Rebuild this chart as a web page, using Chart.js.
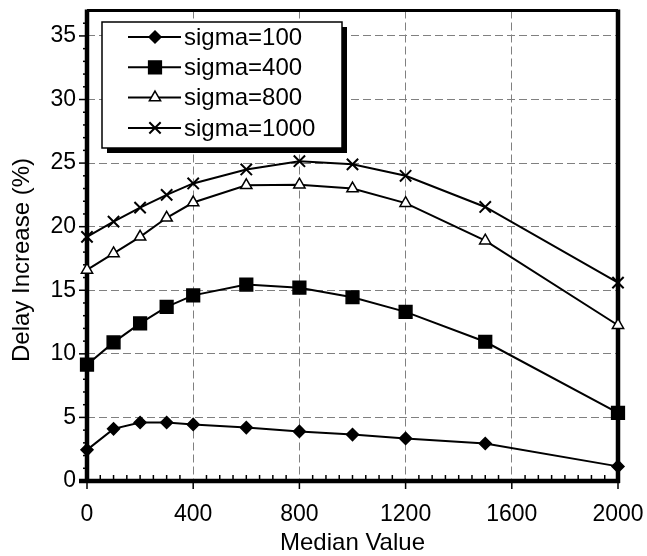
<!DOCTYPE html>
<html>
<head>
<meta charset="utf-8">
<script src="https://cdn.jsdelivr.net/npm/chart.js@4"></script>
<style>body{margin:0;background:#fff}</style>
</head>
<body>
<canvas id="chart" width="647" height="556"></canvas>
<script>
// data
const medianValues = [0, 100, 200, 300, 400, 600, 800, 1000, 1200, 1500, 2000];
const sigma100  = [2.45, 4.1, 4.6, 4.6, 4.45, 4.2, 3.9, 3.65, 3.35, 2.95, 1.15];
const sigma400  = [9.15, 10.9, 12.4, 13.7, 14.6, 15.45, 15.2, 14.45, 13.3, 10.95, 5.35];
const sigma800  = [16.6, 17.9, 19.2, 20.7, 21.9, 23.25, 23.3, 23.0, 21.85, 18.9, 12.25];
const sigma1000 = [19.2, 20.4, 21.5, 22.5, 23.4, 24.5, 25.15, 24.9, 24.0, 21.55, 15.6];
const seriesLabels = ['sigma=100', 'sigma=400', 'sigma=800', 'sigma=1000'];
const xTicks = [0, 400, 800, 1200, 1600, 2000];
const yTicks = [0, 5, 10, 15, 20, 25, 30, 35];
const xTitle = 'Median Value';
const yTitle = 'Delay Increase (%)';

const FONT = 'Liberation Sans, Arial, sans-serif';
Chart.defaults.font.family = FONT;
Chart.defaults.font.size = 23;
Chart.defaults.color = '#000';

function toPoints(values) {
    return medianValues.map((x, i) => ({x: x, y: values[i]}));
}

function makeSet(label, values, style, radius, fill) {
    return {
        label: label,
        data: toPoints(values),
        borderColor: '#000',
        borderWidth: 2,
        pointStyle: style,
        pointRadius: radius,
        pointBackgroundColor: fill,
        pointBorderColor: '#000',
        pointBorderWidth: style === 'crossRot' ? 2 : 1.5,
        clip: false,
        tension: 0
    };
}

const datasets = [
    makeSet(seriesLabels[0], sigma100, 'rectRot', 6, '#000'),
    makeSet(seriesLabels[1], sigma400, 'rect', 9, '#000'),
    makeSet(seriesLabels[2], sigma800, 'triangle', 6.5, '#fff'),
    makeSet(seriesLabels[3], sigma1000, 'crossRot', 8, '#000')
];

function line(ctx, x1, y1, x2, y2) {
    ctx.beginPath();
    ctx.moveTo(x1, y1);
    ctx.lineTo(x2, y2);
    ctx.stroke();
}

// thick frame, minor tick marks and axis titles
const framePlugin = {
    id: 'frame',
    beforeDatasetsDraw(chart) {
        const ctx = chart.ctx;
        const {left, right, top, bottom} = chart.chartArea;
        const x = chart.scales.x, y = chart.scales.y;
        ctx.save();
        ctx.strokeStyle = '#000';
        ctx.lineWidth = 1.5;
        for (let v = 1; v < 37; v++) {
            const py = y.getPixelForValue(v);
            line(ctx, left - (v % 5 === 0 ? 8 : 4), py, left, py);
        }
        for (let v = 0; v <= 2000; v += 50) {
            const px = x.getPixelForValue(v);
            if (v % 400 === 0) line(ctx, px, bottom, px, bottom + 8);
            else line(ctx, px, bottom - 6, px, bottom);
        }
        ctx.lineWidth = 3;
        line(ctx, left, top, right, top);
        ctx.lineWidth = 4.5;
        line(ctx, left, top - 1, left, bottom + 2);
        line(ctx, left - 8, bottom, right + 2, bottom);
        line(ctx, right, top - 1, right, bottom + 2);

        ctx.fillStyle = '#000';
        ctx.font = '24px ' + FONT;
        ctx.textAlign = 'center';
        ctx.textBaseline = 'middle';
        ctx.fillText(xTitle, (left + right) / 2, 543);
        ctx.translate(22, 260);
        ctx.rotate(-Math.PI / 2);
        ctx.fillText(yTitle, 0, 0);
        ctx.restore();
    }
};

// boxed legend with drop shadow
const legendPlugin = {
    id: 'boxLegend',
    afterDraw(chart) {
        const ctx = chart.ctx;
        const bx = 102, by = 22, bw = 240, bh = 126;
        ctx.save();
        ctx.fillStyle = '#000';
        ctx.fillRect(bx + 5, by + 5, bw, bh);
        ctx.fillStyle = '#fff';
        ctx.fillRect(bx, by, bw, bh);
        ctx.strokeStyle = '#000';
        ctx.lineWidth = 1.5;
        ctx.strokeRect(bx, by, bw, bh);
        ctx.font = '24px ' + FONT;
        ctx.textBaseline = 'middle';
        chart.data.datasets.forEach((ds, i) => {
            const ry = 37 + i * 30.3;
            ctx.strokeStyle = '#000';
            ctx.lineWidth = 2;
            line(ctx, 128, ry, 181, ry);
            ctx.fillStyle = ds.pointBackgroundColor;
            ctx.lineWidth = ds.pointBorderWidth;
            Chart.helpers.drawPoint(ctx, {pointStyle: ds.pointStyle, radius: ds.pointRadius, rotation: 0, borderWidth: ds.pointBorderWidth}, 155, ry);
            ctx.fillStyle = '#000';
            ctx.fillText(ds.label, 184, ry + 1);
        });
        ctx.restore();
    }
};

new Chart(document.getElementById('chart').getContext('2d'), {
    type: 'line',
    data: {datasets: datasets},
    options: {
        responsive: false,
        animation: false,
        layout: {padding: {top: 7, right: 29, left: 0, bottom: 0}},
        plugins: {legend: {display: false}, tooltip: {enabled: false}},
        scales: {
            x: {
                type: 'linear',
                min: 0,
                max: 2000,
                afterBuildTicks: s => { s.ticks = xTicks.map(v => ({value: v})); },
                afterFit: s => { s.height = 75; s.paddingLeft = 0; s.paddingRight = 0; },
                ticks: {padding: 20, maxRotation: 0, callback: v => String(v)},
                grid: {color: '#808080', lineWidth: 1, drawTicks: false},
                border: {display: false, dash: [8, 4]}
            },
            y: {
                min: 0,
                max: 37,
                afterBuildTicks: s => { s.ticks = yTicks.map(v => ({value: v})); },
                afterFit: s => { s.width = 87; s.paddingTop = 0; s.paddingBottom = 0; },
                ticks: {padding: 11, callback: v => String(v)},
                grid: {color: '#808080', lineWidth: 1, drawTicks: false},
                border: {display: false, dash: [8, 4]}
            }
        }
    },
    plugins: [framePlugin, legendPlugin]
});
</script>
</body>
</html>
